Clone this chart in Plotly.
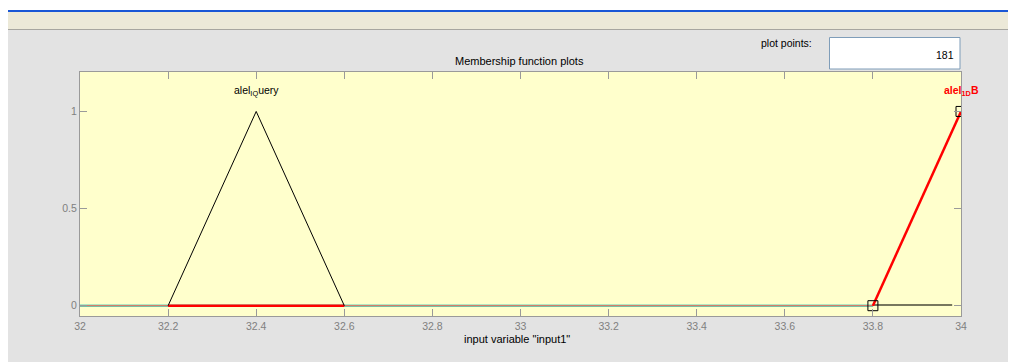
import plotly.graph_objects as go

# ---- data ----
x_domain = [32.0, 34.0]
baseline_x = [32.0, 33.8]
baseline_y = [0, 0]
mf_query_x = [32.2, 32.4, 32.6]
mf_query_y = [0, 1, 0]
mf_b_flat_x = [32.0, 33.8]
mf_b_flat_y = [0, 0]
mf_b_zero_x = [32.2, 32.6]
mf_b_zero_y = [0, 0]
mf_b_x = [33.8, 34.0]
mf_b_y = [0, 1]
tail_x = [33.8, 33.98]
tail_y = [0.003, 0.003]
x_ticks = [32, 32.2, 32.4, 32.6, 32.8, 33, 33.2, 33.4, 33.6, 33.8, 34]
x_ticktext = ["32", "32.2", "32.4", "32.6", "32.8", "33", "33.2", "33.4", "33.6", "33.8", "34"]
y_ticks = [0, 0.5, 1]
y_ticktext = ["0", "0.5", "1"]
plot_points = "181"

# The page body has an 8px margin, so the figure starts at screen (8, 8).
OFF = 8
W, H = 1016, 362
# plot area in screen pixels: x 80..961, y 72..316
SX0, SX1, SY0, SY1 = 80, 961, 72, 316
L, T = SX0 - OFF, SY0 - OFF
R, B = W - (SX1 - OFF), H - (SY1 - OFF)
PW, PH = SX1 - SX0, SY1 - SY0


def px(x):  # screen x -> paper x
    return (x - SX0) / PW


def py(y):  # screen y -> paper y
    return (SY1 - y) / PH


FONT = "Liberation Sans, Arial, sans-serif"

fig = go.Figure()
fig.add_trace(go.Scatter(x=baseline_x, y=baseline_y, mode="lines",
                         line=dict(color="#62d2b6", width=2.5), hoverinfo="skip"))
fig.add_trace(go.Scatter(x=mf_b_flat_x, y=mf_b_flat_y, mode="lines",
                         line=dict(color="#f06a5a", width=1), hoverinfo="skip"))
fig.add_trace(go.Scatter(x=mf_b_zero_x, y=mf_b_zero_y, mode="lines",
                         line=dict(color="#ff0000", width=2.5), hoverinfo="skip"))
fig.add_trace(go.Scatter(x=tail_x, y=tail_y, mode="lines",
                         line=dict(color="#4a4a3a", width=1.5), hoverinfo="skip"))
fig.add_trace(go.Scatter(x=mf_query_x, y=mf_query_y, mode="lines",
                         line=dict(color="#000000", width=1), hoverinfo="skip"))
fig.add_trace(go.Scatter(x=mf_b_x, y=mf_b_y, mode="lines+markers",
                         line=dict(color="#ff0000", width=2.5),
                         marker=dict(symbol="square-open", size=10,
                                     color="#000000", line=dict(width=1, color="#000000")),
                         hoverinfo="skip", cliponaxis=True))

shapes = [
    # white strip top
    dict(type="rect", xref="paper", yref="paper", x0=px(0), x1=px(1030), y0=py(0), y1=py(10),
         fillcolor="#ffffff", line=dict(width=0)),
    # blue line
    dict(type="rect", xref="paper", yref="paper", x0=px(8), x1=px(1030), y0=py(10), y1=py(12),
         fillcolor="#1a57d6", line=dict(width=0)),
    # beige band
    dict(type="rect", xref="paper", yref="paper", x0=px(8), x1=px(1030), y0=py(12), y1=py(29),
         fillcolor="#ece9d8", line=dict(width=0)),
    dict(type="line", xref="paper", yref="paper", x0=px(8), x1=px(1030), y0=py(29.5), y1=py(29.5),
         line=dict(color="#a7a6a0", width=1)),
    # plot points box
    dict(type="rect", xref="paper", yref="paper", x0=px(829.5), x1=px(960), y0=py(37.5), y1=py(69),
         fillcolor="#ffffff", line=dict(color="#7f9db9", width=1)),
]


def note(text, x, y, xanchor="center", color="#000000", size=10):
    return dict(text=text, xref="paper", yref="paper", x=px(x), y=py(y),
                xanchor=xanchor, yanchor="middle", showarrow=False,
                font=dict(size=size, color=color, family=FONT))


annotations = [
    note("Membership function plots", 519, 61, size=11),
    note('input variable "input1"', 517, 339, size=11),
    note("plot points:", 814, 43, xanchor="right", size=10.5),
    note(plot_points, 956, 55, xanchor="right", size=10.5),
    dict(text="alel<sub>IQ</sub>uery", x=mf_query_x[1], y=1.105, xref="x", yref="y",
         xanchor="center", yanchor="middle",
         showarrow=False, font=dict(size=10.5, color="#000000", family=FONT)),
    dict(text="<b>alel<sub>1D</sub>B</b>", x=mf_b_x[1], y=1.105, xref="x", yref="y",
         xanchor="center", yanchor="middle",
         showarrow=False, font=dict(size=10.5, color="#ff0000", family=FONT)),
]

axis_common = dict(showline=True, mirror="ticks", linecolor="#9a9a9a", linewidth=1,
                   ticks="inside", ticklen=7, tickcolor="#9a9a9a", tickwidth=1,
                   showgrid=False, zeroline=False,
                   tickfont=dict(size=10.5, color="#808080", family=FONT))

fig.update_layout(
    width=W, height=H,
    margin=dict(l=L, r=R, t=T, b=B, pad=0),
    paper_bgcolor="#e3e3e3",
    plot_bgcolor="#ffffcc",
    showlegend=False,
    shapes=shapes,
    annotations=annotations,
    xaxis=dict(range=x_domain, tickvals=x_ticks, ticktext=x_ticktext, **axis_common),
    yaxis=dict(range=[-0.053, 1.203], tickvals=y_ticks, ticktext=y_ticktext, **axis_common),
)

fig.write_html("out.html")
